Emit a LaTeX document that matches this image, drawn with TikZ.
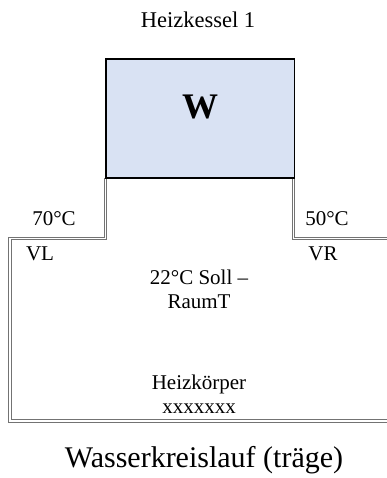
\documentclass[tikz,border=0pt]{standalone}
\usepackage{fontspec}
\setmainfont{Liberation Serif}
\begin{document}
\begin{tikzpicture}[x=1pt,y=-1pt,
  lbl/.style={inner sep=0pt,anchor=base,font=\fontsize{21}{24}\selectfont},
  pipe/.style={draw=black!55,double=white,line width=0.8pt,double distance=1.6pt},
  boiler/.style={draw=black,line width=1.6pt,fill={rgb,255:red,217;green,226;blue,243}}]
\useasboundingbox (0,0) rectangle (387,478);
\clip (0,0) rectangle (387,478);
\node[lbl,font=\fontsize{22.5}{26}\selectfont] (title) at (198,28) {Heizkessel 1};
\coordinate (kbl) at (105.5,178);
\coordinate (kbr) at (293.5,178);
\coordinate (vlend) at (390,421);
\coordinate (vrend) at (390,238.5);
\draw[pipe] (kbl) -- (105.5,238.5) -- (10,238.5) -- (10,421) -- (vlend);
\draw[pipe] (kbr) -- (293.5,238.5) -- (vrend);
\node[boiler,minimum width=188.5pt,minimum height=119pt,inner sep=0pt,anchor=north west] (kessel) at (105.2,58.5) {};
\node[inner sep=0pt,anchor=base,font=\fontsize{36}{40}\selectfont\bfseries] (w) at (200,119) {W};
\node[lbl] (t70) at (54,225) {70°C};
\node[lbl] (t50) at (327,225) {50°C};
\node[lbl] (vl) at (40,260) {VL};
\node[lbl] (vr) at (323,260) {VR};
\node[lbl,align=center] (soll) at (199,308) {22°C Soll –\\RaumT};
\node[lbl,align=center] (hk) at (199,413) {Heizkörper\\xxxxxxx};
\node[lbl,font=\fontsize{30}{34}\selectfont] (wk) at (204,467) {Wasserkreislauf (träge)};
\end{tikzpicture}
\end{document}
